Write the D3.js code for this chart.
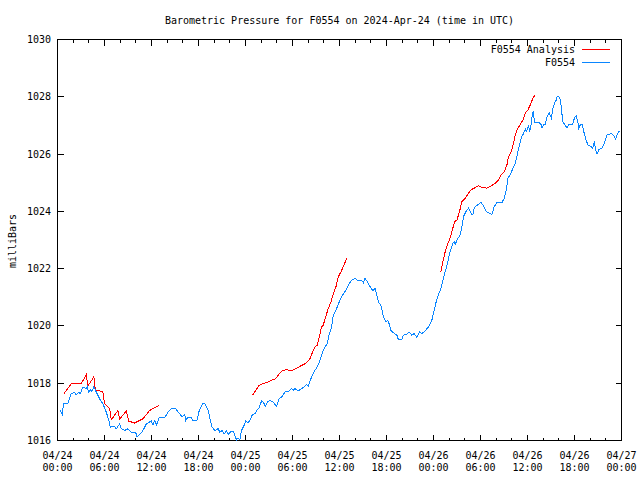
<!DOCTYPE html>
<html><head><meta charset="utf-8">
<script src="https://cdn.jsdelivr.net/npm/d3@7/dist/d3.min.js"></script>
<style>body{margin:0;background:#fff}svg{display:block}</style>
</head><body><svg id="c" width="640" height="480"></svg>
<script>
const titleText = "Barometric Pressure for F0554 on 2024-Apr-24 (time in UTC)";
const yLabelText = "milliBars";
const seriesNames = ["F0554 Analysis", "F0554"];
const seriesColors = ["#ff0000", "#0a86ff"];
const xTickHours = [0, 6, 12, 18, 24, 30, 36, 42, 48, 54, 60, 66, 72];
const xTickDates = ["04/24","04/24","04/24","04/24","04/25","04/25","04/25","04/25","04/26","04/26","04/26","04/26","04/27"];
const xTickTimes = ["00:00","06:00","12:00","18:00","00:00","06:00","12:00","18:00","00:00","06:00","12:00","18:00","00:00"];
const yTicks = [1016, 1018, 1020, 1022, 1024, 1026, 1028, 1030];

// hours since 2024-04-24 00:00 UTC
const stationHours = [0.35,0.60,0.77,1.32,1.75,2.17,2.39,2.72,2.90,3.24,3.67,3.80,3.96,4.18,4.39,4.64,4.82,5.15,5.37,5.79,6.23,6.56,6.74,7.29,7.51,7.93,8.15,8.57,8.99,9.43,9.98,10.14,10.58,10.91,11.34,11.98,12.19,12.41,12.62,12.96,13.68,14.11,14.54,15.09,15.60,15.90,16.24,16.37,16.66,17.10,17.30,17.81,18.03,18.50,18.80,19.22,19.73,20.08,20.50,20.72,21.01,21.27,21.57,21.78,22.21,22.51,22.85,23.06,23.28,23.49,23.91,24.04,24.34,24.64,24.90,25.19,25.49,25.74,26.05,26.26,26.56,26.77,27.11,27.53,27.97,28.30,28.61,29.03,29.58,29.89,30.09,30.31,30.73,31.17,31.46,31.81,32.01,32.44,32.87,33.16,33.51,33.85,34.15,34.44,34.70,35.00,35.21,35.55,35.97,36.41,36.83,37.25,37.56,37.98,38.40,38.84,39.04,39.26,39.56,39.90,40.25,40.54,40.76,40.96,41.27,41.52,41.69,41.91,42.16,42.33,42.55,42.88,43.32,43.52,43.95,44.16,44.59,44.89,45.23,45.53,45.87,46.21,46.51,46.93,47.36,47.79,48.09,48.34,48.63,48.94,49.20,49.49,49.84,50.04,50.48,50.64,50.77,50.99,51.41,51.63,51.83,52.14,52.47,52.69,52.91,53.11,53.20,53.62,54.06,54.31,54.61,54.90,55.46,55.76,56.10,56.74,57.04,57.29,57.51,57.80,58.15,58.44,58.66,58.87,59.08,59.30,59.51,59.72,59.85,60.14,60.27,60.49,60.58,60.71,60.91,61.42,61.73,61.86,62.06,62.28,62.50,62.79,63.05,63.21,63.43,63.65,63.78,63.98,64.20,64.33,64.49,64.75,65.06,65.26,65.77,65.99,66.21,66.46,66.54,66.76,66.97,67.18,67.40,67.69,68.04,68.33,68.55,68.68,68.89,69.10,69.53,69.74,69.95,70.17,70.72,71.01,71.23,71.45,71.65,71.87];
const stationValues = [1017.05,1016.91,1017.28,1017.28,1017.63,1017.69,1017.60,1017.69,1017.63,1017.87,1017.81,1017.89,1017.69,1017.77,1017.72,1017.87,1017.77,1017.58,1017.46,1017.28,1016.99,1016.70,1016.47,1016.49,1016.41,1016.58,1016.41,1016.35,1016.41,1016.29,1016.29,1016.12,1016.23,1016.35,1016.58,1016.68,1016.53,1016.70,1016.53,1016.79,1016.79,1016.99,1017.11,1017.11,1016.93,1016.82,1016.91,1016.70,1016.82,1016.79,1016.70,1016.70,1016.99,1017.28,1017.28,1017.05,1016.47,1016.35,1016.41,1016.29,1016.35,1016.23,1016.33,1016.21,1016.33,1016.29,1016.02,1016.09,1016.02,1016.35,1016.58,1016.68,1016.61,1016.76,1016.91,1016.93,1017.07,1017.14,1017.38,1017.34,1017.19,1017.34,1017.40,1017.34,1017.19,1017.46,1017.52,1017.69,1017.73,1017.81,1017.75,1017.81,1017.73,1017.81,1017.87,1017.96,1017.89,1018.22,1018.45,1018.57,1018.80,1019.09,1019.27,1019.38,1019.73,1019.97,1020.38,1020.55,1020.84,1021.08,1021.25,1021.48,1021.60,1021.66,1021.58,1021.58,1021.51,1021.66,1021.54,1021.37,1021.23,1021.31,1021.08,1020.84,1020.73,1020.43,1020.26,1020.14,1020.20,1020.08,1019.85,1019.76,1019.68,1019.52,1019.52,1019.68,1019.71,1019.79,1019.68,1019.73,1019.60,1019.79,1019.73,1019.83,1019.97,1020.20,1020.55,1020.84,1021.08,1021.31,1021.60,1021.89,1022.24,1022.53,1022.88,1022.94,1022.83,1023.00,1023.18,1023.47,1023.82,1023.99,1024.11,1023.99,1023.88,1023.93,1024.14,1024.22,1024.31,1024.22,1024.05,1023.96,1023.90,1024.17,1024.31,1024.31,1024.46,1024.75,1025.16,1025.28,1025.51,1025.68,1025.92,1026.21,1026.44,1026.62,1026.73,1026.87,1026.79,1026.97,1026.79,1027.08,1027.32,1027.49,1027.11,1027.11,1027.03,1026.91,1027.03,1027.03,1027.32,1027.43,1027.26,1027.55,1027.76,1027.88,1028.02,1028.02,1027.90,1027.61,1027.14,1027.03,1026.91,1027.03,1027.03,1027.26,1027.34,1027.08,1026.91,1027.03,1027.03,1026.79,1026.56,1026.33,1026.27,1026.21,1026.44,1026.15,1026.01,1026.15,1026.21,1026.33,1026.50,1026.68,1026.71,1026.64,1026.52,1026.68,1026.79,1026.79];

// analysis runs; null marks a gap between runs
const analysisHours = [0.77,1.75,3.03,3.67,3.87,4.64,4.82,5.79,6.01,6.65,6.87,7.71,7.93,8.79,9.08,9.85,10.91,11.77,12.96,null,
  24.90,25.32,25.74,26.26,26.89,27.33,27.84,28.17,28.74,29.25,29.89,30.44,30.95,31.46,31.88,32.23,32.57,32.87,33.16,33.42,33.72,33.93,34.23,34.57,34.91,35.21,35.55,35.85,36.19,36.58,36.92,null,
  48.94,49.20,49.49,49.84,50.04,50.35,50.69,50.99,51.32,51.63,52.06,52.40,52.78,53.20,53.75,54.19,54.82,55.34,55.89,56.31,56.65,57.08,57.38,57.59,57.93,58.23,58.44,58.74,59.08,59.43,59.72,60.07,60.36,60.71,61.00];
const analysisValues = [1017.61,1017.98,1017.98,1018.30,1017.90,1018.22,1017.77,1017.70,1017.28,1017.11,1016.72,1017.05,1016.75,1017.03,1016.68,1016.61,1016.76,1017.05,1017.23,null,
  1017.58,1017.75,1017.93,1017.99,1018.04,1018.10,1018.16,1018.28,1018.45,1018.47,1018.43,1018.51,1018.59,1018.66,1018.74,1018.86,1019.09,1019.27,1019.33,1019.62,1019.97,1020.03,1020.32,1020.61,1020.84,1021.13,1021.37,1021.72,1021.89,1022.13,1022.36,null,
  1021.89,1022.24,1022.59,1022.88,1023.00,1023.29,1023.64,1023.70,1023.99,1024.34,1024.46,1024.61,1024.75,1024.81,1024.89,1024.84,1024.81,1024.89,1024.98,1025.10,1025.28,1025.40,1025.63,1025.92,1026.09,1026.38,1026.68,1026.88,1027.03,1027.20,1027.43,1027.55,1027.72,1027.96,1028.08];

const L = 57.5, R = 621.5, T = 39.5, B = 440.5;
const FONT = "'DejaVu Sans Mono', 'Liberation Mono', monospace";
const svg = d3.select("#c");
const x = d3.scaleLinear().domain([0, 72]).range([L, R]);
const y = d3.scaleLinear().domain([1016, 1030]).range([B, T]);
const px = v => Math.round(v - 0.5) + 0.5;

const axisG = svg.append("g").attr("shape-rendering", "crispEdges").attr("stroke", "#000").attr("stroke-width", 1);
// minor x ticks every 2h
const minorX = d3.range(0, 73, 2).filter(h => h % 6 !== 0);
minorX.forEach(h => {
  axisG.append("line").attr("x1", px(x(h))).attr("x2", px(x(h))).attr("y1", B).attr("y2", B - 3);
  axisG.append("line").attr("x1", px(x(h))).attr("x2", px(x(h))).attr("y1", T).attr("y2", T + 3);
});
xTickHours.forEach(h => {
  axisG.append("line").attr("x1", px(x(h))).attr("x2", px(x(h))).attr("y1", B).attr("y2", B - 6);
  axisG.append("line").attr("x1", px(x(h))).attr("x2", px(x(h))).attr("y1", T).attr("y2", T + 6);
});
yTicks.forEach(v => {
  axisG.append("line").attr("x1", L).attr("x2", L + 6).attr("y1", px(y(v))).attr("y2", px(y(v)));
  axisG.append("line").attr("x1", R).attr("x2", R - 6).attr("y1", px(y(v))).attr("y2", px(y(v)));
});

const txt = svg.append("g").attr("font-family", FONT).attr("font-size", "10px").attr("fill", "#000");
yTicks.forEach(v => {
  txt.append("text").attr("x", 51).attr("y", y(v)).attr("text-anchor", "end").attr("dominant-baseline", "central").text(v);
});
xTickHours.forEach((h, i) => {
  txt.append("text").attr("x", x(h)).attr("y", 455).attr("text-anchor", "middle").attr("dominant-baseline", "central").text(xTickDates[i]);
  txt.append("text").attr("x", x(h)).attr("y", 467).attr("text-anchor", "middle").attr("dominant-baseline", "central").text(xTickTimes[i]);
});
txt.append("text").attr("x", (L + R) / 2).attr("y", 20).attr("text-anchor", "middle").attr("dominant-baseline", "central").text(titleText);
txt.append("text").attr("transform", "translate(12,241) rotate(-90)").attr("text-anchor", "middle").attr("dominant-baseline", "central").text(yLabelText);

// data
const station = stationHours.map((h, i) => [h, stationValues[i]]);
const analysis = analysisHours.map((h, i) => [h, analysisValues[i]]);
const line = d3.line().defined(d => d[0] !== null && d[1] !== null).x(d => x(d[0])).y(d => y(d[1])).curve(d3.curveLinear);
const dataG = svg.append("g").attr("fill", "none").attr("stroke-width", 1).attr("shape-rendering", "crispEdges");
dataG.append("path").datum(analysis).attr("stroke", seriesColors[0]).attr("d", line);
dataG.append("path").datum(station).attr("stroke", seriesColors[1]).attr("d", line);

// legend
const legY = [49, 62];
seriesNames.forEach((n, i) => {
  txt.append("text").attr("x", 575).attr("y", legY[i]).attr("text-anchor", "end").attr("dominant-baseline", "central").text(n);
  axisG.append("line").attr("x1", 582).attr("x2", 610).attr("y1", legY[i] + 0.5).attr("y2", legY[i] + 0.5).attr("stroke", seriesColors[i]);
});

// frame
axisG.append("rect").attr("x", L).attr("y", T).attr("width", R - L).attr("height", B - T).attr("fill", "none");
</script></body></html>
